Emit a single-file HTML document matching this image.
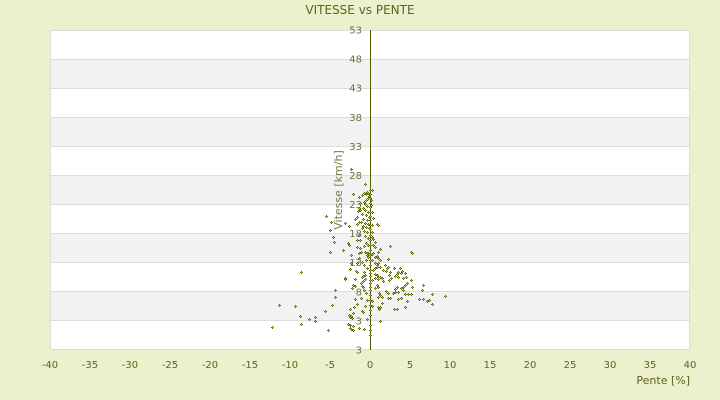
<!DOCTYPE html>
<html><head><meta charset="utf-8"><style>
html,body{margin:0;padding:0;background:#ecf0cd;}
svg{display:block;}
text{font-family:"DejaVu Sans","Liberation Sans",sans-serif;}
</style></head><body>
<svg width="720" height="400" viewBox="0 0 720 400" xmlns="http://www.w3.org/2000/svg">
<rect x="0" y="0" width="720" height="400" fill="#ecf0cd"/>
<text x="360" y="14" font-size="12" fill="#5c6418" text-anchor="middle">VITESSE vs PENTE</text>
<rect x="50" y="30" width="640" height="320" fill="#ffffff"/>
<g fill="#f2f2f2">
<rect x="50" y="59" width="640" height="29"/>
<rect x="50" y="117" width="640" height="29"/>
<rect x="50" y="175" width="640" height="29"/>
<rect x="50" y="233" width="640" height="29"/>
<rect x="50" y="291" width="640" height="29"/>
</g>
<g stroke="#dcdcdc" stroke-width="1" shape-rendering="crispEdges">
<line x1="50" y1="59.5" x2="690" y2="59.5"/>
<line x1="50" y1="88.5" x2="690" y2="88.5"/>
<line x1="50" y1="117.5" x2="690" y2="117.5"/>
<line x1="50" y1="146.5" x2="690" y2="146.5"/>
<line x1="50" y1="175.5" x2="690" y2="175.5"/>
<line x1="50" y1="204.5" x2="690" y2="204.5"/>
<line x1="50" y1="233.5" x2="690" y2="233.5"/>
<line x1="50" y1="262.5" x2="690" y2="262.5"/>
<line x1="50" y1="291.5" x2="690" y2="291.5"/>
<line x1="50" y1="320.5" x2="690" y2="320.5"/>
<rect x="50.5" y="30.5" width="639" height="319" fill="none"/>
</g>
<text transform="translate(342,190) rotate(-90)" font-size="11" fill="#77784a" text-anchor="middle">Vitesse [km/h]</text>
<g font-size="10" fill="#6e7040" text-anchor="end">
<text x="362" y="33.5">53</text>
<text x="362" y="62.6">48</text>
<text x="362" y="91.7">43</text>
<text x="362" y="120.8">38</text>
<text x="362" y="149.9">33</text>
<text x="362" y="179">28</text>
<text x="362" y="208">23</text>
<text x="362" y="237.1">18</text>
<text x="362" y="266.2">13</text>
<text x="362" y="295.3">8</text>
<text x="362" y="324.4">3</text>
<text x="362" y="353.5">3</text>
</g>
<line x1="370.5" y1="30" x2="370.5" y2="350" stroke="#5a6000" stroke-width="1" shape-rendering="crispEdges"/>
<g font-size="10" fill="#5c6418" text-anchor="middle">
<text x="50" y="368">-40</text>
<text x="90" y="368">-35</text>
<text x="130" y="368">-30</text>
<text x="170" y="368">-25</text>
<text x="210" y="368">-20</text>
<text x="250" y="368">-15</text>
<text x="290" y="368">-10</text>
<text x="330" y="368">-5</text>
<text x="370" y="368">0</text>
<text x="410" y="368">5</text>
<text x="450" y="368">10</text>
<text x="490" y="368">15</text>
<text x="530" y="368">20</text>
<text x="570" y="368">25</text>
<text x="610" y="368">30</text>
<text x="650" y="368">35</text>
<text x="690" y="368">40</text>
</g>
<text x="690" y="384" font-size="11" fill="#5c6418" text-anchor="end">Pente [%]</text>
<defs>
<g id="p">
<rect x="-1" y="0" width="1" height="1" fill="#5e6600"/>
<rect x="1" y="0" width="1" height="1" fill="#5e6600"/>
<rect x="0" y="-1" width="1" height="1" fill="#5e6600"/>
<rect x="0" y="1" width="1" height="1" fill="#5e6600"/>
<rect x="0" y="0" width="1" height="1" fill="#b4b86a"/>
</g>
</defs>
<g shape-rendering="crispEdges">
<use href="#p" x="272" y="327"/><use href="#p" x="279" y="305"/><use href="#p" x="295" y="306"/>
<use href="#p" x="300" y="316"/><use href="#p" x="301" y="272"/><use href="#p" x="301" y="324"/>
<use href="#p" x="309" y="319"/><use href="#p" x="315" y="317"/><use href="#p" x="315" y="321"/>
<use href="#p" x="325" y="311"/><use href="#p" x="328" y="330"/><use href="#p" x="332" y="305"/>
<use href="#p" x="335" y="290"/><use href="#p" x="335" y="297"/><use href="#p" x="326" y="216"/>
<use href="#p" x="331" y="222"/><use href="#p" x="330" y="230"/><use href="#p" x="333" y="237"/>
<use href="#p" x="334" y="242"/><use href="#p" x="330" y="252"/><use href="#p" x="343" y="250"/>
<use href="#p" x="345" y="278"/><use href="#p" x="345" y="223"/><use href="#p" x="349" y="226"/>
<use href="#p" x="348" y="243"/><use href="#p" x="349" y="245"/><use href="#p" x="351" y="255"/>
<use href="#p" x="351" y="169"/><use href="#p" x="353" y="194"/><use href="#p" x="359" y="197"/>
<use href="#p" x="365" y="184"/><use href="#p" x="350" y="269"/><use href="#p" x="356" y="271"/>
<use href="#p" x="345" y="279"/>
<use href="#p" x="361" y="252"/><use href="#p" x="365" y="252"/><use href="#p" x="367" y="255"/>
<use href="#p" x="368" y="253"/><use href="#p" x="364" y="272"/><use href="#p" x="363" y="276"/>
<use href="#p" x="362" y="277"/><use href="#p" x="365" y="279"/><use href="#p" x="363" y="281"/>
<use href="#p" x="355" y="279"/><use href="#p" x="353" y="285"/><use href="#p" x="355" y="286"/>
<use href="#p" x="352" y="288"/><use href="#p" x="361" y="283"/><use href="#p" x="362" y="286"/>
<use href="#p" x="363" y="287"/><use href="#p" x="364" y="290"/><use href="#p" x="361" y="298"/>
<use href="#p" x="355" y="299"/><use href="#p" x="357" y="304"/><use href="#p" x="362" y="311"/>
<use href="#p" x="363" y="312"/><use href="#p" x="350" y="309"/><use href="#p" x="354" y="307"/>
<use href="#p" x="353" y="313"/><use href="#p" x="351" y="316"/><use href="#p" x="349" y="315"/>
<use href="#p" x="350" y="317"/><use href="#p" x="352" y="318"/><use href="#p" x="348" y="324"/>
<use href="#p" x="350" y="325"/><use href="#p" x="353" y="326"/><use href="#p" x="350" y="328"/>
<use href="#p" x="351" y="329"/><use href="#p" x="367" y="319"/><use href="#p" x="359" y="328"/>
<use href="#p" x="364" y="329"/><use href="#p" x="353" y="330"/><use href="#p" x="357" y="263"/>
<use href="#p" x="357" y="272"/><use href="#p" x="351" y="263"/><use href="#p" x="360" y="248"/>
<use href="#p" x="359" y="253"/><use href="#p" x="366" y="260"/><use href="#p" x="364" y="265"/>
<use href="#p" x="367" y="268"/><use href="#p" x="359" y="258"/><use href="#p" x="362" y="262"/>
<use href="#p" x="366" y="293"/><use href="#p" x="367" y="300"/><use href="#p" x="365" y="306"/>
<use href="#p" x="362" y="195"/><use href="#p" x="364" y="193"/><use href="#p" x="366" y="194"/>
<use href="#p" x="368" y="198"/><use href="#p" x="369" y="196"/><use href="#p" x="366" y="200"/>
<use href="#p" x="364" y="202"/><use href="#p" x="365" y="204"/><use href="#p" x="367" y="206"/>
<use href="#p" x="363" y="208"/><use href="#p" x="360" y="210"/><use href="#p" x="358" y="211"/>
<use href="#p" x="359" y="208"/><use href="#p" x="365" y="210"/><use href="#p" x="368" y="212"/>
<use href="#p" x="362" y="214"/><use href="#p" x="366" y="215"/><use href="#p" x="369" y="217"/>
<use href="#p" x="357" y="217"/><use href="#p" x="355" y="219"/><use href="#p" x="363" y="219"/>
<use href="#p" x="367" y="220"/><use href="#p" x="361" y="222"/><use href="#p" x="365" y="223"/>
<use href="#p" x="368" y="224"/><use href="#p" x="359" y="222"/><use href="#p" x="357" y="224"/>
<use href="#p" x="363" y="226"/><use href="#p" x="366" y="227"/><use href="#p" x="369" y="228"/>
<use href="#p" x="362" y="228"/><use href="#p" x="364" y="231"/><use href="#p" x="367" y="232"/>
<use href="#p" x="359" y="235"/><use href="#p" x="365" y="236"/><use href="#p" x="368" y="238"/>
<use href="#p" x="360" y="240"/><use href="#p" x="357" y="240"/><use href="#p" x="357" y="247"/>
<use href="#p" x="364" y="246"/><use href="#p" x="366" y="243"/><use href="#p" x="368" y="245"/>
<use href="#p" x="367" y="192"/><use href="#p" x="368" y="193"/><use href="#p" x="360" y="203"/>
<use href="#p" x="372" y="190"/><use href="#p" x="371" y="200"/><use href="#p" x="372" y="212"/>
<use href="#p" x="373" y="218"/><use href="#p" x="372" y="225"/><use href="#p" x="377" y="224"/>
<use href="#p" x="378" y="225"/><use href="#p" x="372" y="232"/><use href="#p" x="372" y="237"/>
<use href="#p" x="373" y="239"/><use href="#p" x="375" y="242"/><use href="#p" x="373" y="245"/>
<use href="#p" x="375" y="247"/><use href="#p" x="380" y="249"/><use href="#p" x="390" y="246"/>
<use href="#p" x="371" y="205"/>
<use href="#p" x="411" y="252"/><use href="#p" x="412" y="253"/><use href="#p" x="367" y="253"/>
<use href="#p" x="368" y="257"/><use href="#p" x="372" y="254"/><use href="#p" x="373" y="253"/>
<use href="#p" x="375" y="257"/><use href="#p" x="378" y="252"/><use href="#p" x="378" y="258"/>
<use href="#p" x="377" y="256"/><use href="#p" x="388" y="259"/><use href="#p" x="375" y="263"/>
<use href="#p" x="377" y="265"/><use href="#p" x="378" y="263"/><use href="#p" x="380" y="267"/>
<use href="#p" x="377" y="267"/><use href="#p" x="375" y="268"/><use href="#p" x="373" y="270"/>
<use href="#p" x="385" y="265"/><use href="#p" x="387" y="268"/><use href="#p" x="388" y="267"/>
<use href="#p" x="383" y="270"/><use href="#p" x="386" y="271"/><use href="#p" x="394" y="268"/>
<use href="#p" x="400" y="268"/><use href="#p" x="402" y="271"/><use href="#p" x="398" y="272"/>
<use href="#p" x="397" y="274"/><use href="#p" x="401" y="273"/><use href="#p" x="398" y="277"/>
<use href="#p" x="395" y="276"/><use href="#p" x="390" y="272"/><use href="#p" x="389" y="275"/>
<use href="#p" x="391" y="278"/><use href="#p" x="389" y="280"/><use href="#p" x="405" y="273"/>
<use href="#p" x="406" y="277"/><use href="#p" x="403" y="278"/><use href="#p" x="365" y="275"/>
<use href="#p" x="375" y="274"/><use href="#p" x="377" y="275"/><use href="#p" x="378" y="277"/>
<use href="#p" x="380" y="277"/><use href="#p" x="375" y="278"/><use href="#p" x="378" y="279"/>
<use href="#p" x="382" y="278"/><use href="#p" x="383" y="281"/><use href="#p" x="407" y="283"/>
<use href="#p" x="405" y="285"/><use href="#p" x="403" y="287"/><use href="#p" x="411" y="280"/>
<use href="#p" x="377" y="285"/><use href="#p" x="378" y="287"/><use href="#p" x="375" y="288"/>
<use href="#p" x="397" y="287"/><use href="#p" x="395" y="289"/><use href="#p" x="401" y="288"/>
<use href="#p" x="403" y="290"/><use href="#p" x="398" y="292"/><use href="#p" x="423" y="285"/>
<use href="#p" x="422" y="290"/><use href="#p" x="412" y="287"/><use href="#p" x="386" y="291"/>
<use href="#p" x="388" y="293"/><use href="#p" x="393" y="293"/><use href="#p" x="395" y="292"/>
<use href="#p" x="405" y="294"/><use href="#p" x="408" y="294"/><use href="#p" x="411" y="294"/>
<use href="#p" x="432" y="294"/><use href="#p" x="445" y="296"/><use href="#p" x="379" y="293"/>
<use href="#p" x="380" y="295"/><use href="#p" x="378" y="297"/><use href="#p" x="382" y="297"/>
<use href="#p" x="388" y="298"/><use href="#p" x="390" y="298"/><use href="#p" x="398" y="299"/>
<use href="#p" x="401" y="298"/><use href="#p" x="407" y="301"/><use href="#p" x="419" y="299"/>
<use href="#p" x="423" y="299"/><use href="#p" x="427" y="301"/><use href="#p" x="429" y="300"/>
<use href="#p" x="432" y="304"/><use href="#p" x="372" y="301"/><use href="#p" x="382" y="303"/>
<use href="#p" x="372" y="306"/><use href="#p" x="378" y="307"/><use href="#p" x="380" y="307"/>
<use href="#p" x="379" y="309"/><use href="#p" x="405" y="307"/><use href="#p" x="394" y="309"/>
<use href="#p" x="397" y="309"/><use href="#p" x="380" y="321"/><use href="#p" x="372" y="280"/>
<use href="#p" x="372" y="260"/><use href="#p" x="380" y="260"/>
<use href="#p" x="370" y="190"/><use href="#p" x="370" y="194"/><use href="#p" x="370" y="198"/>
<use href="#p" x="370" y="203"/><use href="#p" x="370" y="207"/><use href="#p" x="370" y="212"/>
<use href="#p" x="370" y="216"/><use href="#p" x="370" y="220"/><use href="#p" x="370" y="225"/>
<use href="#p" x="370" y="229"/><use href="#p" x="370" y="235"/><use href="#p" x="370" y="240"/>
<use href="#p" x="370" y="245"/><use href="#p" x="370" y="250"/><use href="#p" x="370" y="255"/>
<use href="#p" x="370" y="260"/><use href="#p" x="370" y="265"/><use href="#p" x="370" y="270"/>
<use href="#p" x="370" y="273"/><use href="#p" x="370" y="276"/><use href="#p" x="370" y="280"/>
<use href="#p" x="370" y="283"/><use href="#p" x="370" y="287"/><use href="#p" x="370" y="290"/>
<use href="#p" x="370" y="295"/><use href="#p" x="370" y="300"/><use href="#p" x="370" y="305"/>
<use href="#p" x="370" y="310"/><use href="#p" x="370" y="315"/><use href="#p" x="370" y="325"/>
<use href="#p" x="370" y="330"/><use href="#p" x="370" y="335"/>
</g>
</svg>
</body></html>
